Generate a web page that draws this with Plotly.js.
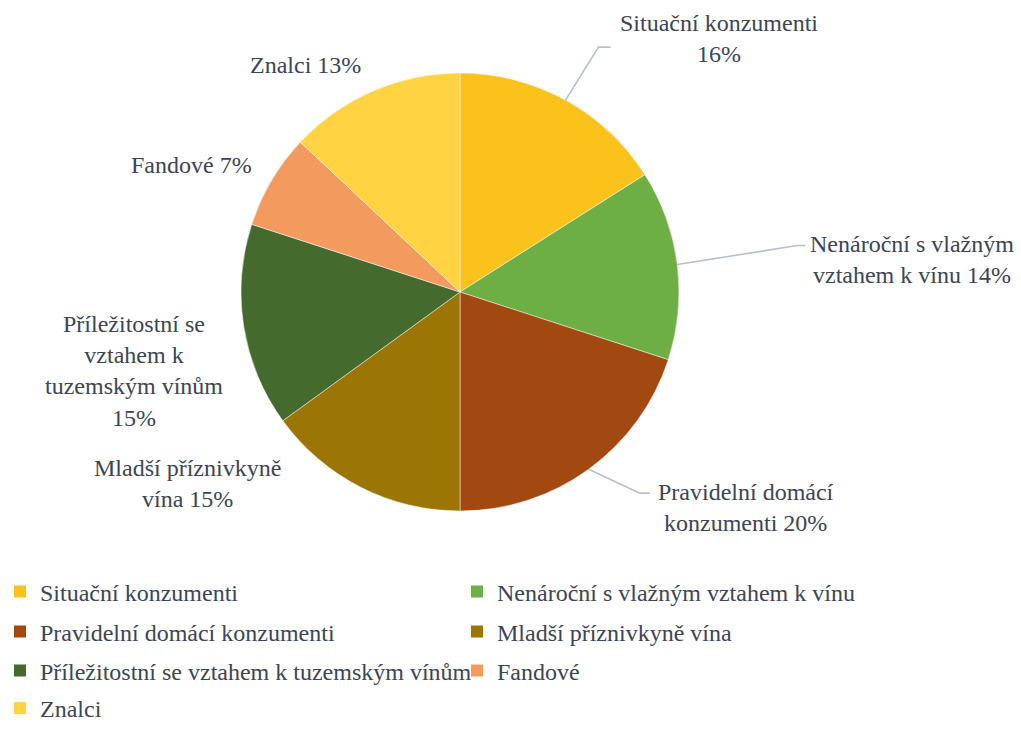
<!DOCTYPE html>
<html>
<head>
<meta charset="utf-8">
<script src="https://cdn.plot.ly/plotly-3.0.1.min.js"></script>
<style>
  html, body { margin: 0; padding: 0; background: #ffffff; }
  #chart { width: 1021px; height: 731px; }
</style>
</head>
<body>
<div id="chart"></div>
<script>
// ---- data ----
const categories = [
  'Situační konzumenti',
  'Nenároční s vlažným vztahem k vínu',
  'Pravidelní domácí konzumenti',
  'Mladší příznivkyně vína',
  'Příležitostní se vztahem k tuzemským vínům',
  'Fandové',
  'Znalci'
];
const shares = [16, 14, 20, 15, 15, 7, 13];
// data-label wording with line breaks (value appended)
const labelTexts = [
  'Situační konzumenti<br>',
  'Nenároční s vlažným<br>vztahem k vínu ',
  'Pravidelní domácí<br>konzumenti ',
  'Mladší příznivkyně<br>vína ',
  'Příležitostní se<br>vztahem k<br>tuzemským vínům<br>',
  'Fandové ',
  'Znalci '
];

// ---- style ----
const colors = ['#FCC21C', '#6DAE45', '#A14911', '#9B7605', '#456A2D', '#F39B5E', '#FFD342'];
const textColor = '#3c4555';
const leaderColor = '#b7c0cc';
const fontFam = 'Liberation Serif, Times New Roman, serif';
const W = 1021, H = 731;
const cx = 460, cy = 292, R = 219;           // pie placement (px)
// label centre offset (px) from the slice-edge midpoint
const labelOffsets = [[153, -62], [235, -5], [157, 38], [-173, -4], [-110, 45], [-80, -16], [-68, -26]];
// leader line elbow / end offsets (px) from the slice-edge midpoint (null = no leader)
const leaderPts = [[[33, -53], [45, -53]], [[120, -19], [128, -19]], [[51, 24], [61, 24]], null, null, null, null];
// legend layout: which legend each category goes into, row position (px) and anchor
const legendIds = ['legend', 'legend', 'legend2', 'legend2', 'legend3', 'legend3', 'legend4'];
const legendRows = {
  legend:  { y: 592, anchor: 'middle' },
  legend2: { y: 632, anchor: 'middle' },
  legend3: { y: 671, anchor: 'middle' },
  legend4: { y: 731, anchor: 'bottom' }
};

const px = x => x / W;
const py = y => 1 - y / H;

const total = shares.reduce((a, b) => a + b, 0);
let cum = 0;
const annotations = [];
const shapes = [];
shares.forEach((v, i) => {
  const mid = (cum + v / 2) / total;
  cum += v;
  const ang = 2 * Math.PI * mid;
  const ex = cx + R * Math.sin(ang);
  const ey = cy - R * Math.cos(ang);
  annotations.push({
    x: px(ex), y: py(ey), xref: 'paper', yref: 'paper',
    text: labelTexts[i] + v + '%',
    showarrow: false,
    xanchor: 'center', yanchor: 'middle',
    xshift: labelOffsets[i][0], yshift: -labelOffsets[i][1],
    align: 'center',
    font: { family: fontFam, size: 24, color: textColor }
  });
  if (leaderPts[i]) {
    const [e1, e2] = leaderPts[i];
    shapes.push({
      type: 'path', xref: 'paper', yref: 'paper',
      path: `M ${px(ex)} ${py(ey)} L ${px(ex + e1[0])} ${py(ey + e1[1])} L ${px(ex + e2[0])} ${py(ey + e2[1])}`,
      line: { color: leaderColor, width: 1.6 }
    });
  }
});

const pieTrace = {
  type: 'pie',
  labels: categories,
  values: shares,
  sort: false,
  direction: 'clockwise',
  rotation: 0,
  textinfo: 'none',
  showlegend: false,
  hoverinfo: 'label+percent',
  marker: { colors: colors, line: { color: 'rgba(255,255,255,0.6)', width: 0.8 } },
  domain: { x: [px(cx - R), px(cx + R)], y: [py(cy + R), py(cy - R)] }
};

// legend entries (empty marker traces, one per category)
const legendTraces = categories.map((c, i) => ({
  type: 'scatter', mode: 'markers',
  x: [null], y: [null],
  name: c,
  legend: legendIds[i],
  marker: { symbol: 'square', size: 12, color: colors[i], line: { width: 0 } },
  hoverinfo: 'skip'
}));

const legendBase = {
  orientation: 'h',
  x: 0, xanchor: 'left',
  entrywidth: 412, entrywidthmode: 'pixels',
  itemwidth: 30,
  font: { family: fontFam, size: 24, color: textColor },
  bgcolor: 'rgba(0,0,0,0)'
};

const layout = {
  width: W, height: H,
  margin: { l: 0, r: 0, t: 0, b: 0 },
  paper_bgcolor: '#ffffff',
  plot_bgcolor: 'rgba(0,0,0,0)',
  font: { family: fontFam, color: textColor, size: 24 },
  showlegend: true,
  xaxis: { visible: false, range: [0, 1] },
  yaxis: { visible: false, range: [0, 1] },
  annotations: annotations,
  shapes: shapes
};
Object.keys(legendRows).forEach(k => {
  layout[k] = Object.assign({}, legendBase, { y: py(legendRows[k].y), yanchor: legendRows[k].anchor });
});

Plotly.newPlot('chart', [pieTrace].concat(legendTraces), layout, { displayModeBar: false, staticPlot: true });
</script>
</body>
</html>
